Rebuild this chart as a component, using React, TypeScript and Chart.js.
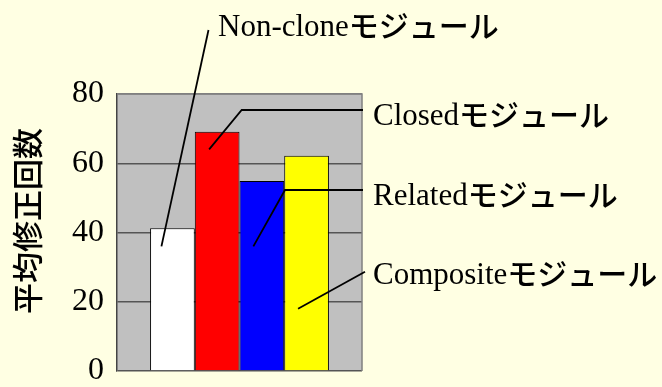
import React, { useEffect, useRef } from "react";
import { Chart, registerables } from "chart.js";

Chart.register(...registerables);

const categories = ["modules"];
const seriesNames = ["Non-clone", "Closed", "Related", "Composite"];
const labelSuffix = "モジュール";
const seriesValues = [41.2, 69.1, 54.9, 62.2];
const seriesColors = ["#FFFFFF", "#FF0000", "#0000FF", "#FFFF00"];
const anchorValues = [36, 64, 36, 18];
const yTicks = [0, 20, 40, 60, 80];
const yTitle = "平均修正回数";

const SERIF = '"Liberation Serif", "Noto Sans CJK JP", serif';
const CJK = '"Noto Sans CJK JP", sans-serif';

// layout of the callout texts and the fixed ends of their leader lines
const calloutLayout = [
  { tx: 218, ty: 36, pts: [[208.5, 30]], dx: -11 },
  { tx: 373, ty: 125, pts: [[363, 110], [241.7, 110]], dx: -8 },
  { tx: 373, ty: 205, pts: [[363, 190], [285, 190]], dx: -8.5 },
  { tx: 373, ty: 284, pts: [[365, 271.7]], dx: -8.5 },
];

const decorPlugin = {
  id: "decor",
  beforeDraw(chart: any) {
    const { ctx, chartArea: a } = chart;
    ctx.save();
    ctx.fillStyle = "#FFFFE3";
    ctx.fillRect(0, 0, chart.width, chart.height);
    ctx.fillStyle = "#C0C0C0";
    ctx.fillRect(a.left, a.top, a.right - a.left, a.bottom - a.top);
    ctx.restore();
  },
  beforeDatasetsDraw(chart: any) {
    const { ctx, chartArea: a } = chart;
    ctx.save();
    ctx.strokeStyle = "#808080";
    ctx.lineWidth = 1.5;
    ctx.beginPath();
    ctx.moveTo(a.left, a.top);
    ctx.lineTo(a.right, a.top);
    ctx.lineTo(a.right, a.bottom);
    ctx.stroke();
    ctx.restore();
  },
  afterDatasetsDraw(chart: any) {
    const { ctx } = chart;
    const y = chart.scales.y;
    ctx.save();
    ctx.strokeStyle = "#000000";
    ctx.lineWidth = 1.8;
    calloutLayout.forEach((c, i) => {
      const bar = chart.getDatasetMeta(i).data[0];
      const ax = bar.x + c.dx;
      const ay = y.getPixelForValue(anchorValues[i]);
      ctx.beginPath();
      ctx.moveTo(c.pts[0][0], c.pts[0][1]);
      for (let k = 1; k < c.pts.length; k++) ctx.lineTo(c.pts[k][0], c.pts[k][1]);
      ctx.lineTo(ax, ay);
      ctx.stroke();
    });
    ctx.fillStyle = "#000000";
    ctx.textAlign = "left";
    ctx.textBaseline = "alphabetic";
    calloutLayout.forEach((c, i) => {
      ctx.font = `31px ${SERIF}`;
      const name = seriesNames[i];
      ctx.fillText(name, c.tx, c.ty);
      const w = ctx.measureText(name).width;
      ctx.font = `500 30px ${CJK}`;
      ctx.fillText(labelSuffix, c.tx + w, c.ty + 1);
    });
    // y axis title
    ctx.translate(27.5, 221);
    ctx.rotate(-Math.PI / 2);
    ctx.font = `500 31px ${CJK}`;
    ctx.textAlign = "center";
    ctx.textBaseline = "middle";
    ctx.fillText(yTitle, 0, 0);
    ctx.restore();
  },
};

export default function App() {
  const ref = useRef<HTMLCanvasElement | null>(null);
  useEffect(() => {
    document.body.style.margin = "0";
    document.body.style.background = "#FFFFE3";
    if (!ref.current) return;
    const chart = new Chart(ref.current, {
      type: "bar",
      data: {
        labels: categories,
        datasets: seriesNames.map((n, i) => ({
          label: n,
          data: [seriesValues[i]],
          backgroundColor: seriesColors[i],
          borderColor: "#000000",
          borderWidth: 1,
          categoryPercentage: 0.73,
          barPercentage: 1,
        })),
      },
      options: {
        responsive: false,
        animation: false,
        devicePixelRatio: 1,
        layout: { padding: { left: 0, top: 94, right: 300, bottom: 16 } },
        plugins: { legend: { display: false }, tooltip: { enabled: false } },
        scales: {
          x: { display: false },
          y: {
            min: 0,
            max: 80,
            afterFit(scale: any) {
              scale.width = 117;
            },
            afterBuildTicks(scale: any) {
              scale.ticks = yTicks.map((v) => ({ value: v }));
            },
            ticks: {
              color: "#000000",
              padding: 13,
              font: { family: SERIF, size: 32, lineHeight: 0.1 },
            },
            grid: {
              color: (c: any) => (c.tick && c.tick.value === 80 ? "#808080" : "#555555"),
              lineWidth: 1.5,
              tickLength: 0,
            },
            border: { color: "#444444", width: 1.5 },
          },
        },
      },
      plugins: [decorPlugin],
    });
    return () => chart.destroy();
  }, []);
  return <canvas ref={ref} width={662} height={387} style={{ display: "block" }} />;
}
